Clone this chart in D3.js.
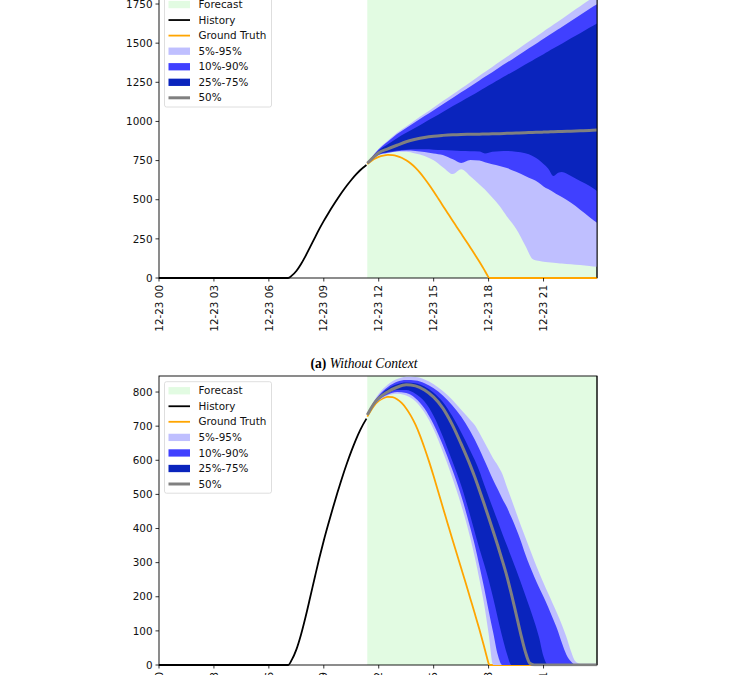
<!DOCTYPE html>
<html><head><meta charset="utf-8">
<script src="https://cdn.jsdelivr.net/npm/d3@7"></script>
<style>body{margin:0;background:#fff;} svg{display:block;}</style>
</head><body>
<svg id="chart" width="732" height="675"></svg>
<script>
// ---------- data ----------
const xTickHours = [0, 3, 6, 9, 12, 15, 18, 21];
const xTickLabels = ["12-23 00", "12-23 03", "12-23 06", "12-23 09", "12-23 12", "12-23 15", "12-23 18", "12-23 21"];
const yTicksA = [0, 250, 500, 750, 1000, 1250, 1500, 1750];
const yTicksB = [0, 100, 200, 300, 400, 500, 600, 700, 800];
const legendLabels = ["Forecast", "History", "Ground Truth", "5%-95%", "10%-90%", "25%-75%", "50%"];
const captionBold = "(a)";
const captionItalic = " Without Context";

const startHour = 0;
const forecastStart = 11.375;
const endHour = 23.92;

const historyHours  = [0, 7.05, 7.25, 7.5, 7.75, 8.0, 8.25, 8.5, 8.75, 9.0, 9.25, 9.5, 9.75, 10.0, 10.25, 10.5, 10.75, 11.0, 11.33];
const historyValues = [0, 0, 15, 45, 88, 140, 197, 255, 312, 365, 414, 461, 506, 549, 589, 626, 660, 690, 722];

const truthHours  = [11.375, 11.75, 12, 12.25, 12.5, 12.75, 13, 13.25, 13.5, 13.75, 14, 14.25, 14.5, 14.75, 15, 15.25, 15.5, 15.75, 16, 16.25, 16.5, 16.75, 17, 17.25, 17.5, 17.75, 17.9, 18.05, 23.92];
const truthValues = [728, 760, 774, 782, 786, 785, 779, 768, 752, 731, 705, 673, 636, 596, 553, 508, 462, 417, 372, 328, 284, 240, 195, 150, 104, 55, 24, 0, 0];

// (a) Without Context
const hoursA = [11.375, 11.75, 12, 12.5, 13, 13.5, 14, 14.5, 15, 15.5, 16.05, 16.5, 17, 17.5, 17.8, 18.2, 18.6, 19, 19.5, 20, 20.4, 20.7, 21, 21.25, 21.55, 21.8, 22, 22.5, 23, 23.5, 23.92];
const a_p5  = [733, 768, 784, 797, 806, 806, 795, 780, 752, 708, 664, 694, 650, 598, 565, 514, 460, 393, 315, 208, 122, 110, 104, 101, 98, 95, 93, 88, 83, 77, 72];
const a_p10 = [733, 770, 786, 800, 810, 814, 812, 805, 796, 786, 758, 735, 754, 750, 740, 727, 716, 702, 678, 652, 630, 612, 585, 568, 548, 530, 517, 480, 436, 390, 353];
const a_p25 = [733, 772, 790, 805, 815, 820, 822, 822, 820, 818, 814, 811, 810, 808, 796, 807, 810, 811, 806, 797, 780, 758, 728, 700, 652, 672, 677, 652, 620, 590, 556];
const a_p50 = [733, 775, 800, 825, 848, 870, 886, 898, 906, 911, 915, 917, 918, 919, 920, 921, 922, 924, 926, 928, 930, 931, 932, 933, 934, 935, 936, 938, 940, 942, 945];
const a_p75 = [733, 785, 815, 855, 893, 927, 960, 994, 1027, 1061, 1098, 1128, 1161, 1195, 1215, 1242, 1269, 1296, 1329, 1363, 1390, 1410, 1430, 1447, 1467, 1484, 1497, 1531, 1564, 1598, 1626];
const a_p90 = [733, 790, 822, 872, 920, 958, 996, 1034, 1072, 1110, 1152, 1186, 1224, 1262, 1285, 1315, 1346, 1376, 1414, 1452, 1482, 1505, 1528, 1547, 1570, 1589, 1604, 1642, 1680, 1718, 1748];
const a_p95 = [733, 792, 826, 878, 928, 968, 1009, 1049, 1089, 1130, 1174, 1211, 1251, 1292, 1316, 1348, 1381, 1413, 1453, 1494, 1526, 1550, 1575, 1595, 1619, 1639, 1655, 1696, 1736, 1776, 1810];

// (b) second panel
const hoursB = [11.375, 11.75, 12, 12.5, 13, 13.5, 14, 14.5, 15, 15.5, 16, 16.5, 17, 17.25, 17.5, 17.75, 18, 18.25, 18.5, 18.75, 19, 19.25, 19.5, 19.75, 20, 20.25, 20.5, 20.75, 21, 21.25, 21.5, 21.75, 22, 22.25, 22.5, 22.75, 23, 23.5, 23.92];
const b_p5  = [733, 762, 775, 790, 795, 790, 773, 740, 690, 625, 552, 470, 372, 315, 250, 180, 92, 0, 0, 0, 0, 0, 0, 0, 0, 0, 0, 0, 0, 0, 0, 0, 0, 0, 0, 0, 0, 0, 0];
const b_p10 = [733, 763, 777, 793, 800, 797, 782, 752, 705, 645, 575, 497, 402, 350, 290, 228, 160, 95, 30, 0, 0, 0, 0, 0, 0, 0, 0, 0, 0, 0, 0, 0, 0, 0, 0, 0, 0, 0, 0];
const b_p25 = [733, 765, 779, 797, 806, 806, 795, 772, 730, 670, 600, 527, 437, 388, 341, 297, 250, 196, 138, 82, 33, 0, 0, 0, 0, 0, 0, 0, 0, 0, 0, 0, 0, 0, 0, 0, 0, 0, 0];
const b_p50 = [733, 767, 782, 801, 814, 821, 818, 806, 785, 753, 706, 648, 585, 550, 512, 473, 433, 392, 350, 306, 260, 207, 150, 92, 40, 5, 0, 0, 0, 0, 0, 0, 0, 0, 0, 0, 0, 0, 0];
const b_p75 = [733, 770, 787, 810, 823, 828, 826, 816, 798, 771, 731, 682, 628, 600, 568, 530, 493, 457, 421, 385, 350, 315, 280, 243, 205, 167, 127, 82, 25, 0, 0, 0, 0, 0, 0, 0, 0, 0, 0];
const b_p90 = [733, 772, 790, 815, 830, 835, 834, 826, 811, 790, 762, 728, 685, 660, 632, 602, 572, 542, 515, 487, 462, 432, 400, 365, 325, 290, 258, 228, 200, 170, 138, 105, 65, 30, 10, 0, 0, 0, 0];
const b_p95 = [733, 775, 795, 822, 838, 845, 844, 837, 823, 803, 778, 748, 718, 703, 680, 655, 630, 605, 585, 560, 522, 485, 448, 410, 375, 340, 305, 272, 240, 210, 180, 150, 118, 82, 40, 10, 4, 4, 4];

// ---------- style ----------
const C = {
  forecast: "#e2fbe2",
  history: "#000000",
  truth: "#ffa500",
  b95: "#bfbfff",
  b90: "#4040ff",
  b75: "#0a24bd",
  median: "#808080"
};
const FONT = "'DejaVu Sans', sans-serif";
const FS = 10.4;
const L = 159, R = 597;

const svg = d3.select("#chart");

function drawPanel(id, top, bottom, yMax, yTicks, hours, q, legendTop) {
  const x = d3.scaleLinear().domain([startHour, endHour]).range([L, R]);
  const y = d3.scaleLinear().domain([0, yMax]).range([bottom, top]);
  const g = svg.append("g");

  g.append("clipPath").attr("id", "clip" + id)
    .append("rect").attr("x", L).attr("y", top).attr("width", R - L).attr("height", bottom - top);
  g.append("clipPath").attr("id", "clipL" + id)
    .append("rect").attr("x", L - 1).attr("y", top).attr("width", R - L + 2).attr("height", bottom - top + 1.2);

  // forecast span
  g.append("g").attr("clip-path", `url(#clip${id})`)
    .append("rect")
    .attr("x", x(forecastStart)).attr("y", top)
    .attr("width", x(endHour) - x(forecastStart)).attr("height", bottom - top)
    .attr("fill", C.forecast);

  // frame (under the line artists)
  g.append("rect").attr("x", L).attr("y", top).attr("width", R - L).attr("height", bottom - top)
    .attr("fill", "none").attr("stroke", "#000").attr("stroke-width", 0.9);

  const line = (hs, vs) => d3.line().curve(d3.curveMonotoneX)
    .x((d, i) => x(hs[i])).y(d => y(d))(vs);

  // history & truth
  const pl = g.append("g").attr("clip-path", `url(#clipL${id})`);
  pl.append("path").attr("d", line(historyHours, historyValues))
    .attr("fill", "none").attr("stroke", C.history).attr("stroke-width", 1.8);
  pl.append("path").attr("d", line(truthHours, truthValues))
    .attr("fill", "none").attr("stroke", C.truth).attr("stroke-width", 1.8);

  // quantile bands
  const pb = g.append("g").attr("clip-path", `url(#clip${id})`);
  const bands = [[q.p5, q.p95, C.b95], [q.p10, q.p90, C.b90], [q.p25, q.p75, C.b75]];
  bands.forEach(([lo, hi, col]) => {
    const area = d3.area().curve(d3.curveMonotoneX)
      .x((d, i) => x(hours[i]))
      .y0((d, i) => y(lo[i]))
      .y1((d, i) => y(hi[i]));
    pb.append("path").attr("d", area(lo)).attr("fill", col);
  });

  // median on top of the bands
  const pm = g.append("g").attr("clip-path", `url(#clipL${id})`);
  pm.append("path").attr("d", line(hours, q.p50))
    .attr("fill", "none").attr("stroke", C.median).attr("stroke-width", 3);

  // right spine above the bands
  g.append("line").attr("x1", R).attr("x2", R).attr("y1", top).attr("y2", bottom)
    .attr("stroke", "#000").attr("stroke-width", 0.9);

  // y axis ticks
  const yt = g.append("g");
  yTicks.forEach(t => {
    yt.append("line").attr("x1", L - 3.5).attr("x2", L).attr("y1", y(t)).attr("y2", y(t))
      .attr("stroke", "#000").attr("stroke-width", 0.8);
    yt.append("text").attr("x", L - 6.5).attr("y", y(t)).attr("dy", "0.35em")
      .attr("text-anchor", "end").attr("font-family", FONT).attr("font-size", FS)
      .attr("fill", "#111").text(t);
  });
  // x axis ticks
  const xt = g.append("g");
  xTickHours.forEach((h, i) => {
    xt.append("line").attr("x1", x(h)).attr("x2", x(h)).attr("y1", bottom).attr("y2", bottom + 3.5)
      .attr("stroke", "#000").attr("stroke-width", 0.8);
    xt.append("text")
      .attr("transform", `translate(${x(h)},${bottom + 7}) rotate(-90)`)
      .attr("dy", "0.35em").attr("text-anchor", "end")
      .attr("font-family", FONT).attr("font-size", FS).attr("fill", "#111")
      .text(xTickLabels[i]);
  });

  // legend
  const lg = g.append("g");
  lg.append("rect").attr("x", 164.5).attr("y", legendTop).attr("width", 107).attr("height", 111.5)
    .attr("rx", 2).attr("fill", "#fff").attr("fill-opacity", 0.8)
    .attr("stroke", "#d5d5d5").attr("stroke-width", 0.8);
  const kinds = [
    ["patch", C.forecast], ["line", C.history, 1.8], ["line", C.truth, 1.8],
    ["patch", C.b95], ["patch", C.b90], ["patch", C.b75], ["line", C.median, 3]
  ];
  legendLabels.forEach((lab, i) => {
    const cy = legendTop + 9 + i * 15.55;
    const k = kinds[i];
    if (k[0] === "patch") {
      lg.append("rect").attr("x", 168.5).attr("y", cy - 3.6).attr("width", 21.5).attr("height", 7.3).attr("fill", k[1]);
    } else {
      lg.append("line").attr("x1", 168.5).attr("x2", 190).attr("y1", cy).attr("y2", cy)
        .attr("stroke", k[1]).attr("stroke-width", k[2]);
    }
    lg.append("text").attr("x", 198.5).attr("y", cy).attr("dy", "0.35em")
      .attr("font-family", FONT).attr("font-size", FS).attr("fill", "#111").text(lab);
  });
}

drawPanel("A", -11, 278, 1846, yTicksA, hoursA,
  {p5: a_p5, p10: a_p10, p25: a_p25, p50: a_p50, p75: a_p75, p90: a_p90, p95: a_p95}, -4.5);
drawPanel("B", 376, 665, 847, yTicksB, hoursB,
  {p5: b_p5, p10: b_p10, p25: b_p25, p50: b_p50, p75: b_p75, p90: b_p90, p95: b_p95}, 381.7);

// caption
const cap = svg.append("text").attr("x", 364).attr("y", 367.5).attr("text-anchor", "middle")
  .attr("font-family", "'Liberation Serif', 'Times New Roman', serif").attr("font-size", 13.6).attr("fill", "#000");
cap.append("tspan").attr("font-weight", "bold").text(captionBold);
cap.append("tspan").attr("font-style", "italic").text(captionItalic);
</script>
</body></html>
